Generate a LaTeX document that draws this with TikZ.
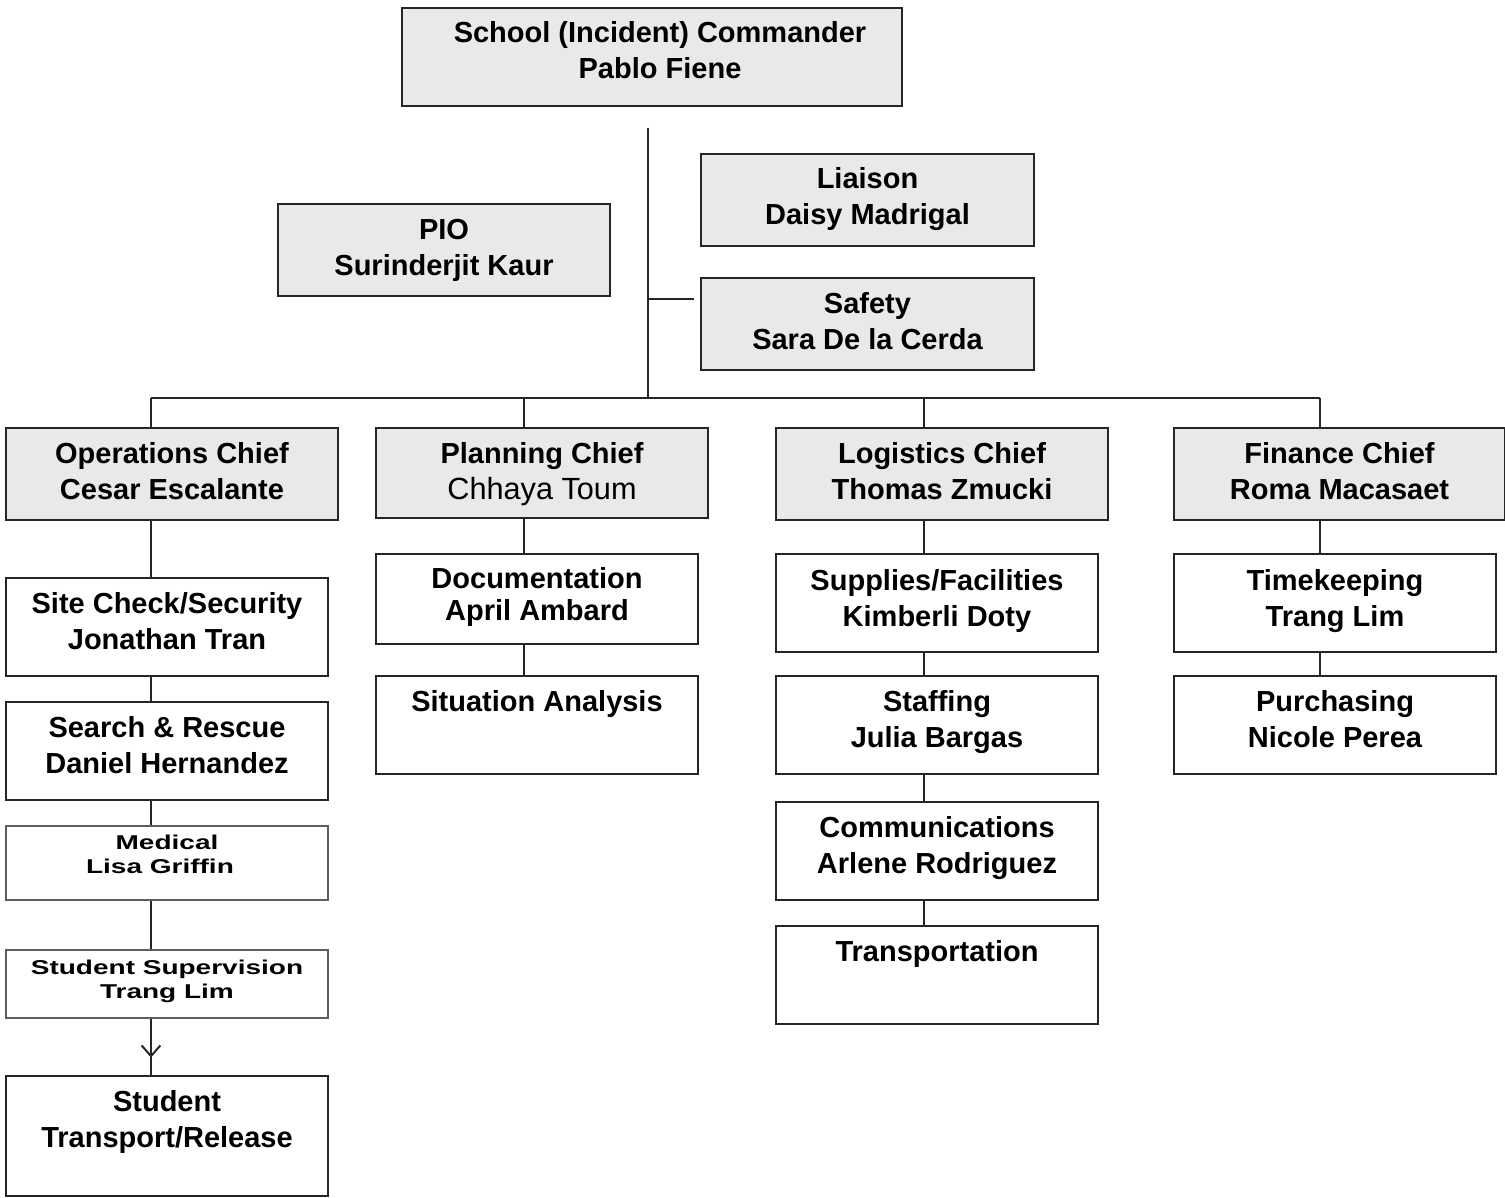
\documentclass[tikz,border=0pt]{standalone}
\usepackage{fontspec}
\usepackage{graphicx}
\setmainfont{Liberation Sans}
\usetikzlibrary{arrows.meta,decorations.markings}
\newlength\pxu \setlength\pxu{0.75pt}
\definecolor{boxfill}{HTML}{E9E9E9}
\definecolor{edge}{HTML}{262626}
\definecolor{lightedge}{HTML}{5E5E5E}
\newcommand\bigtext{\fontsize{21.75pt}{27pt}\selectfont\bfseries}
\newcommand\midtext{\fontsize{21.75pt}{24pt}\selectfont\bfseries}
\newcommand\smalltext{\fontsize{15pt}{18pt}\selectfont\bfseries}
\newcommand\wide[1]{\scalebox{1.4}[1]{#1}}
% width, height, first baseline (px), content
\newcommand\boxtext[4]{\parbox[t][#2\pxu][t]{#1\pxu}{\centering\rule{0pt}{#3\pxu}#4}}
\tikzset{
  box/.style={draw=edge, line width=1.5pt, inner sep=0pt, anchor=north west, text=black},
  chief/.style={box, fill=boxfill},
  unit/.style={box, fill=white},
  faint/.style={box, draw=lightedge, fill=white},
  conn/.style={draw=edge, line width=1.5pt},
}
\begin{document}
\begin{tikzpicture}[x=0.75pt,y=-0.75pt]
\useasboundingbox (0,0) rectangle (1505,1198);
% top level
\node[chief] (cmd) at (401,7) {\boxtext{500}{98}{35}{\bigtext\hspace*{16\pxu}School (Incident) Commander\\\hspace*{16\pxu}Pablo Fiene}};
\node[chief] (pio) at (277,203) {\boxtext{332}{92}{35}{\bigtext PIO\\Surinderjit Kaur}};
\node[chief] (liaison) at (700,153) {\boxtext{333}{92}{35}{\bigtext Liaison\\Daisy Madrigal}};
\node[chief] (safety) at (700,277) {\boxtext{333}{92}{35}{\bigtext Safety\\Sara De la Cerda}};
% chiefs
\node[chief] (ops) at (5,427) {\boxtext{332}{92}{35}{\bigtext Operations Chief\\Cesar Escalante}};
\node[chief] (plan) at (375,427) {\boxtext{332}{90}{35}{\bigtext Planning Chief\\{\fontsize{23pt}{27pt}\selectfont\mdseries Chhaya Toum}}};
\node[chief] (logi) at (775,427) {\boxtext{332}{92}{35}{\bigtext Logistics Chief\\Thomas Zmucki}};
\node[chief] (fin) at (1173,427) {\boxtext{331}{92}{35}{\bigtext Finance Chief\\Roma Macasaet}};
% operations column
\node[unit] (site) at (5,577) {\boxtext{322}{98}{35}{\bigtext Site Check/Security\\Jonathan Tran}};
\node[unit] (search) at (5,701) {\boxtext{322}{98}{35}{\bigtext Search \& Rescue\\Daniel Hernandez}};
\node[faint] (med) at (5,825) {\boxtext{322}{74}{23}{\smalltext\wide{Medical}\\\hspace*{-14\pxu}\wide{Lisa Griffin}}};
\node[faint] (sup) at (5,949) {\boxtext{322}{68}{24}{\smalltext\wide{Student Supervision}\\\wide{Trang Lim}}};
\node[unit] (trans) at (5,1075) {\boxtext{322}{120}{35}{\bigtext Student\\Transport/Release}};
% planning column
\node[unit] (doc) at (375,553) {\boxtext{322}{90}{34}{\midtext Documentation\\April Ambard}};
\node[unit] (sit) at (375,675) {\boxtext{322}{98}{35}{\bigtext Situation Analysis}};
% logistics column
\node[unit] (supp) at (775,553) {\boxtext{322}{98}{36}{\bigtext Supplies/Facilities\\Kimberli Doty}};
\node[unit] (staff) at (775,675) {\boxtext{322}{98}{35}{\bigtext Staffing\\Julia Bargas}};
\node[unit] (comm) at (775,801) {\boxtext{322}{98}{35}{\bigtext Communications\\Arlene Rodriguez}};
\node[unit] (tport) at (775,925) {\boxtext{322}{98}{35}{\bigtext Transportation}};
% finance column
\node[unit] (time) at (1173,553) {\boxtext{322}{98}{36}{\bigtext Timekeeping\\Trang Lim}};
\node[unit] (purch) at (1173,675) {\boxtext{322}{98}{35}{\bigtext Purchasing\\Nicole Perea}};
% coordinates
\coordinate (trunktop) at (648,128);
\coordinate (trunkbot) at (648,398);
\coordinate (safetyj) at (648,299);
\coordinate (safetye) at (694,299);
\coordinate (busw) at (151,398);
\coordinate (buse) at (1320,398);
\coordinate (opsx) at (151,0);
\coordinate (planx) at (524,0);
\coordinate (logix) at (924,0);
\coordinate (finx) at (1320,0);
% connectors
\draw[conn] (trunktop) -- (trunkbot);
\draw[conn] (safetyj) -- (safetye);
\draw[conn] (busw) -- (buse);
\draw[conn] (busw) -- (opsx |- ops.north);
\draw[conn] (planx |- busw) -- (planx |- plan.north);
\draw[conn] (logix |- busw) -- (logix |- logi.north);
\draw[conn] (buse) -- (finx |- fin.north);
\draw[conn] (opsx |- ops.south) -- (opsx |- site.north);
\draw[conn] (opsx |- site.south) -- (opsx |- search.north);
\draw[conn] (opsx |- search.south) -- (opsx |- med.north);
\draw[conn] (opsx |- med.south) -- (opsx |- sup.north);
\draw[conn, postaction={decorate}, decoration={markings, mark=at position 0.69 with {\arrow{Straight Barb[length=8pt,width=14pt,line width=1.5pt]}}}] (opsx |- sup.south) -- (opsx |- trans.north);
\draw[conn] (planx |- plan.south) -- (planx |- doc.north);
\draw[conn] (planx |- doc.south) -- (planx |- sit.north);
\draw[conn] (logix |- logi.south) -- (logix |- supp.north);
\draw[conn] (logix |- supp.south) -- (logix |- staff.north);
\draw[conn] (logix |- staff.south) -- (logix |- comm.north);
\draw[conn] (logix |- comm.south) -- (logix |- tport.north);
\draw[conn] (finx |- fin.south) -- (finx |- time.north);
\draw[conn] (finx |- time.south) -- (finx |- purch.north);
\end{tikzpicture}
\end{document}
